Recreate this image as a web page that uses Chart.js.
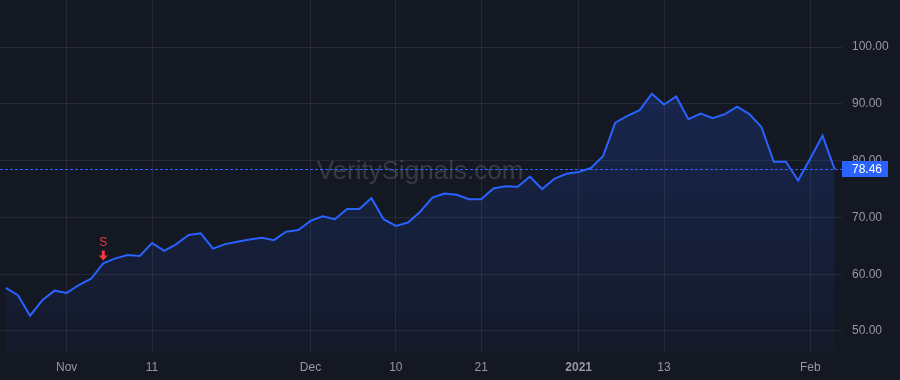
<!DOCTYPE html>
<html>
<head>
<meta charset="utf-8">
<script src="https://cdn.jsdelivr.net/npm/chart.js@4.4.1/dist/chart.umd.min.js"></script>
<style>
  html, body { margin: 0; padding: 0; background: #141823; }
  #wrap { width: 900px; height: 380px; position: relative; }
</style>
</head>
<body>
<div id="wrap"><canvas id="c"></canvas></div>
<script>
// Trading days, Oct 26 2020 .. Feb 3 2021
const dates = [
  '2020-10-26','2020-10-27','2020-10-28','2020-10-29','2020-10-30',
  '2020-11-02','2020-11-03','2020-11-04','2020-11-05','2020-11-06','2020-11-09','2020-11-10','2020-11-11','2020-11-12','2020-11-13',
  '2020-11-16','2020-11-17','2020-11-18','2020-11-19','2020-11-20','2020-11-23','2020-11-24','2020-11-25','2020-11-27','2020-11-30',
  '2020-12-01','2020-12-02','2020-12-03','2020-12-04','2020-12-07','2020-12-08','2020-12-09','2020-12-10','2020-12-11',
  '2020-12-14','2020-12-15','2020-12-16','2020-12-17','2020-12-18','2020-12-21','2020-12-22','2020-12-23','2020-12-24',
  '2020-12-28','2020-12-29','2020-12-30','2020-12-31',
  '2021-01-04','2021-01-05','2021-01-06','2021-01-07','2021-01-08','2021-01-11','2021-01-12','2021-01-13','2021-01-14','2021-01-15',
  '2021-01-19','2021-01-20','2021-01-21','2021-01-22','2021-01-25','2021-01-26','2021-01-27','2021-01-28','2021-01-29',
  '2021-02-01','2021-02-02','2021-02-03'
];
const closes = [
  57.6, 56.3, 52.7, 55.4, 57.1,
  56.7, 58.1, 59.2, 61.9, 62.8, 63.4, 63.2, 65.5, 64.1, 65.3,
  66.9, 67.2, 64.5, 65.3, 65.7, 66.1, 66.4, 66.0, 67.5, 67.8,
  69.4, 70.2, 69.7, 71.5, 71.5, 73.4, 69.7, 68.5, 69.1,
  71.0, 73.5, 74.2, 74.0, 73.2, 73.2, 75.1, 75.5, 75.4,
  77.2, 75.0, 76.8, 77.7,
  78.0, 78.7, 80.8, 86.7, 87.9, 88.9, 91.8, 89.9, 91.3, 87.3,
  88.3, 87.5, 88.2, 89.5, 88.2, 85.9, 79.8, 79.8, 76.5,
  80.4, 84.4, 78.46
];
const xTickDates = ['2020-11-02','2020-11-11','2020-12-01','2020-12-10','2020-12-21','2021-01-04','2021-01-13','2021-02-01'];
const xTickLabels = ['Nov','11','Dec','10','21','2021','13','Feb'];
const yTicks = [50, 60, 70, 80, 90, 100];
const signalDate = '2020-11-05';
const signalLabel = 'S';
const watermark = 'VeritySignals.com';

const FONT = '"Liberation Sans", Arial, sans-serif';
const BLUE = '#2962ff';
const TEXT = '#9598a1';
const GRID = 'rgba(255,255,255,0.075)';

const points = closes.map((v, i) => ({ x: i, y: v }));
const tickIdx = xTickDates.map(d => dates.indexOf(d));
const lastVal = closes[closes.length - 1];

function noPad(scale) {
  scale.paddingTop = 0; scale.paddingBottom = 0;
  scale.paddingLeft = 0; scale.paddingRight = 0;
}

const overlay = {
  id: 'overlay',
  beforeDatasetsDraw(chart) {
    const { ctx } = chart;
    ctx.save();
    ctx.font = '26px ' + FONT;
    ctx.fillStyle = 'rgba(255,255,255,0.15)';
    ctx.textAlign = 'center';
    ctx.textBaseline = 'middle';
    ctx.fillText(watermark, 420, 172);
    ctx.restore();
  },
  afterDatasetsDraw(chart) {
    const { ctx, chartArea, scales } = chart;
    const x = scales.x, y = scales.y;
    const py = Math.round(y.getPixelForValue(lastVal)) + 0.5;
    ctx.save();
    ctx.strokeStyle = BLUE;
    ctx.lineWidth = 1;
    ctx.setLineDash([3, 2]);
    ctx.beginPath();
    ctx.moveTo(chartArea.left, py);
    ctx.lineTo(chartArea.right, py);
    ctx.stroke();
    ctx.restore();

    const si = dates.indexOf(signalDate);
    const sx = x.getPixelForValue(si);
    const sy = y.getPixelForValue(closes[si]);
    ctx.save();
    ctx.fillStyle = '#f23645';
    const bottom = sy - 3;
    ctx.beginPath();
    ctx.moveTo(sx, bottom);
    ctx.lineTo(sx - 4.5, bottom - 5);
    ctx.lineTo(sx - 1.5, bottom - 5);
    ctx.lineTo(sx - 1.5, bottom - 10);
    ctx.lineTo(sx + 1.5, bottom - 10);
    ctx.lineTo(sx + 1.5, bottom - 5);
    ctx.lineTo(sx + 4.5, bottom - 5);
    ctx.closePath();
    ctx.fill();
    ctx.font = '12px ' + FONT;
    ctx.textAlign = 'center';
    ctx.textBaseline = 'middle';
    ctx.fillText(signalLabel, sx, bottom - 18);
    ctx.restore();
  },
  afterDraw(chart) {
    const { ctx, chartArea, scales } = chart;
    const py = Math.round(scales.y.getPixelForValue(lastVal));
    ctx.save();
    ctx.fillStyle = BLUE;
    ctx.fillRect(chartArea.right, py - 8, 46, 16);
    ctx.fillStyle = '#ffffff';
    ctx.font = '12px ' + FONT;
    ctx.textAlign = 'left';
    ctx.textBaseline = 'middle';
    ctx.fillText(lastVal.toFixed(2), chartArea.right + 10, py + 0.5);
    ctx.restore();
  }
};

new Chart(document.getElementById('c'), {
  type: 'line',
  data: {
    datasets: [{
      data: points,
      borderColor: BLUE,
      borderWidth: 2,
      pointRadius: 0,
      tension: 0,
      fill: 'start',
      backgroundColor(context) {
        const { ctx, chartArea } = context.chart;
        if (!chartArea) return 'rgba(41,98,255,0.15)';
        const g = ctx.createLinearGradient(0, chartArea.top, 0, chartArea.bottom);
        g.addColorStop(0, 'rgba(41,98,255,0.26)');
        g.addColorStop(1, 'rgba(41,98,255,0.03)');
        return g;
      }
    }]
  },
  options: {
    responsive: true,
    maintainAspectRatio: false,
    animation: false,
    layout: { padding: 0 },
    plugins: { legend: { display: false }, tooltip: { enabled: false } },
    scales: {
      x: {
        type: 'linear',
        min: -0.47,
        max: 68.6,
        afterBuildTicks(scale) { scale.ticks = tickIdx.map(v => ({ value: v })); },
        afterFit(scale) { scale.height = 28; noPad(scale); },
        grid: { color: GRID, drawTicks: false },
        border: { display: false },
        ticks: {
          padding: 8,
          maxRotation: 0,
          autoSkip: false,
          color: TEXT,
          font(ctx) {
            const lab = ctx.tick ? xTickLabels[tickIdx.indexOf(ctx.tick.value)] : '';
            return { family: FONT, size: 12, weight: lab === '2021' ? 'bold' : 'normal' };
          },
          callback(v) { const k = tickIdx.indexOf(v); return k >= 0 ? xTickLabels[k] : ''; }
        }
      },
      y: {
        position: 'right',
        min: 46.3,
        max: 108.3,
        afterBuildTicks(scale) { scale.ticks = yTicks.map(v => ({ value: v })); },
        afterFit(scale) { scale.width = 58; noPad(scale); },
        grid: { color: GRID, drawTicks: false },
        border: { display: false },
        ticks: {
          padding: 10,
          color: TEXT,
          font: { family: FONT, size: 12 },
          callback(v) { return Number(v).toFixed(2); }
        }
      }
    }
  },
  plugins: [overlay]
});
</script>
</body>
</html>
